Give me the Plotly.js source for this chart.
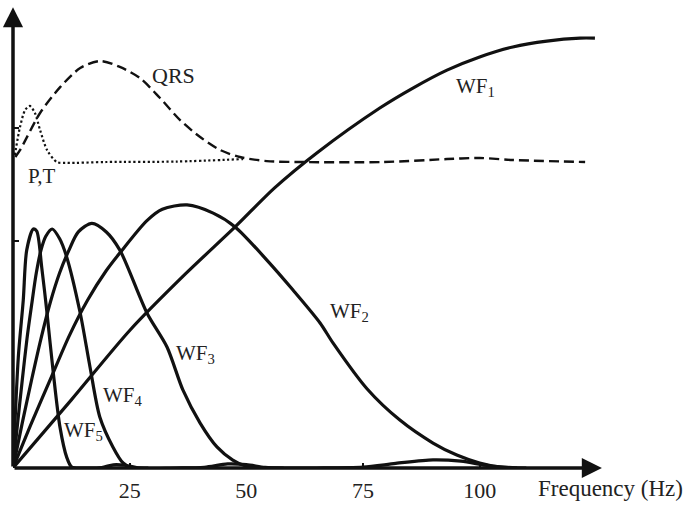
<!DOCTYPE html>
<html>
<head>
<meta charset="utf-8">
<script src="https://cdn.plot.ly/plotly-3.0.1.min.js"></script>
<style>html,body{margin:0;padding:0;background:#fff;}#chart{width:686px;height:509px;}</style>
</head>
<body>
<div id="chart"></div>
<script>
// Frequency (Hz) and relative amplitude
var wf1F = [0, 12.5, 25.1, 37, 47.6, 56, 65.1, 78.6, 85.7, 93, 100, 107.1, 114.4, 121.5, 124.7];
var wf1Y = [0, 0.30, 0.608, 0.856, 1.062, 1.233, 1.388, 1.586, 1.674, 1.753, 1.811, 1.855, 1.881, 1.894, 1.894];

var wf2F = [0, 4, 8, 12, 16, 20, 23, 28.7, 32, 37.3, 42.9, 47.6, 54.4, 60, 65.8, 68.6, 75.9, 82.9, 90, 95.1, 100, 104.4, 110];
var wf2Y = [0, 0.20, 0.39, 0.58, 0.74, 0.87, 0.95, 1.09, 1.14, 1.159, 1.123, 1.062, 0.916, 0.784, 0.639, 0.55, 0.348, 0.211, 0.11, 0.057, 0.022, 0.004, 0];

var wf3F = [0, 2, 4, 6, 8, 10, 12, 14, 16.9, 20, 22.9, 28.7, 33, 36.4, 40.1, 43.7, 47.1, 49.7, 55, 65, 75, 82, 90, 96, 102, 108];
var wf3Y = [0, 0.20, 0.39, 0.57, 0.73, 0.86, 0.96, 1.04, 1.078, 1.04, 0.96, 0.683, 0.533, 0.344, 0.198, 0.093, 0.035, 0.01, 0, 0, 0.004, 0.02, 0.036, 0.03, 0.01, 0];

var wf4F = [0, 1, 2, 3, 4, 5, 6, 7, 8.4, 10, 11.5, 14.4, 16.5, 18.6, 21.4, 23.6, 25.5, 35, 41, 46, 50, 54, 58];
var wf4Y = [0, 0.20, 0.39, 0.57, 0.72, 0.86, 0.96, 1.02, 1.053, 1.01, 0.93, 0.683, 0.445, 0.225, 0.093, 0.022, 0, 0, 0.003, 0.018, 0.015, 0.003, 0];

var wf5F = [0, 1.14, 2.2, 2.94, 4.35, 5.08, 6.15, 7.22, 8.64, 10.07, 11.5, 12.6, 15, 19, 21.5, 24, 26.5, 29];
var wf5Y = [0, 0.489, 0.74, 0.96, 1.053, 1.044, 0.885, 0.696, 0.418, 0.18, 0.048, 0.004, 0, 0.002, 0.014, 0.012, 0.002, 0];

var qrsF = [0.5, 1.5, 5.8, 10.1, 14.4, 18.6, 22.9, 27.2, 31.5, 35.8, 40.1, 44.4, 48.6, 54.4, 61.5, 79.3, 93, 100, 107.1, 122.6];
var qrsY = [1.37, 1.40, 1.564, 1.678, 1.762, 1.793, 1.767, 1.718, 1.63, 1.533, 1.458, 1.401, 1.37, 1.352, 1.348, 1.348, 1.361, 1.366, 1.357, 1.348];

var ptF = [0.4, 1.5, 2.6, 3.6, 4.7, 5.8, 7.3, 9.4, 11.6, 19.9, 34.9, 49.3];
var ptY = [1.379, 1.502, 1.577, 1.595, 1.564, 1.489, 1.401, 1.348, 1.344, 1.348, 1.35, 1.361];

var xTickVals = [25, 50, 75, 100];
var xTickText = ['25', '50', '75', '100'];
var yTickVals = [1, 1.5];

var serif = '"Liberation Serif", serif';
var ink = '#111111';

function solid(x, y) {
  return {x: x, y: y, type: 'scatter', mode: 'lines', hoverinfo: 'skip',
    line: {color: ink, width: 3.2, shape: 'spline', smoothing: 0.8}};
}

var traces = [
  solid(wf1F, wf1Y), solid(wf2F, wf2Y), solid(wf3F, wf3Y), solid(wf4F, wf4Y), solid(wf5F, wf5Y),
  {x: qrsF, y: qrsY, type: 'scatter', mode: 'lines', hoverinfo: 'skip',
   line: {color: ink, width: 2.4, dash: '10px,5px', shape: 'spline', smoothing: 0.8}},
  {x: ptF, y: ptY, type: 'scatter', mode: 'lines', hoverinfo: 'skip',
   line: {color: ink, width: 2.2, dash: '2.2px,2.5px', shape: 'spline', smoothing: 0.8}}
];

function lbl(x, y, t, size) {
  return {x: x, y: y, xref: 'x', yref: 'y', text: t, showarrow: false,
    xanchor: 'center', yanchor: 'middle', font: {family: serif, size: size || 21, color: '#222'}};
}

var annotations = [
  // axis arrows
  {x: 126.2, y: 0, ax: 0, ay: 0, xref: 'x', yref: 'y', axref: 'x', ayref: 'y', text: '',
   showarrow: true, arrowhead: 2, arrowsize: 1.15, arrowwidth: 3.5, arrowcolor: ink},
  {x: 0, y: 2.03, ax: 0, ay: 0, xref: 'x', yref: 'y', axref: 'x', ayref: 'y', text: '',
   showarrow: true, arrowhead: 2, arrowsize: 1.15, arrowwidth: 3.5, arrowcolor: ink},
  lbl(34.3, 1.731, 'QRS', 22),
  lbl(6.2, 1.286, 'P,T', 21),
  lbl(99.2, 1.678, 'WF<sub>1</sub>'),
  lbl(72.2, 0.687, 'WF<sub>2</sub>'),
  lbl(39, 0.502, 'WF<sub>3</sub>'),
  lbl(23.6, 0.317, 'WF<sub>4</sub>'),
  lbl(15.2, 0.163, 'WF<sub>5</sub>'),
  {x: 1.017, y: -0.045, xref: 'paper', yref: 'paper', text: 'Frequency (Hz)', showarrow: false,
   xanchor: 'center', yanchor: 'middle', font: {family: serif, size: 23, color: '#222'}}
];

var layout = {
  width: 686, height: 509,
  margin: {l: 13, r: 85, t: 2, b: 41},
  paper_bgcolor: '#ffffff', plot_bgcolor: '#ffffff',
  showlegend: false,
  font: {family: serif},
  xaxis: {range: [0, 126], showgrid: false, zeroline: false, showline: false,
    ticks: 'inside', ticklen: 5, tickwidth: 2, tickcolor: ink,
    tickvals: xTickVals, ticktext: xTickText, ticklabelstandoff: 7,
    tickfont: {family: serif, size: 22, color: '#222'}, fixedrange: true},
  yaxis: {range: [0, 2.053], showgrid: false, zeroline: false, showline: false,
    ticks: 'inside', ticklen: 6, tickwidth: 2, tickcolor: ink,
    tickvals: yTickVals, showticklabels: false, fixedrange: true},
  annotations: annotations
};

Plotly.newPlot('chart', traces, layout, {staticPlot: true, displayModeBar: false});
</script>
</body>
</html>
